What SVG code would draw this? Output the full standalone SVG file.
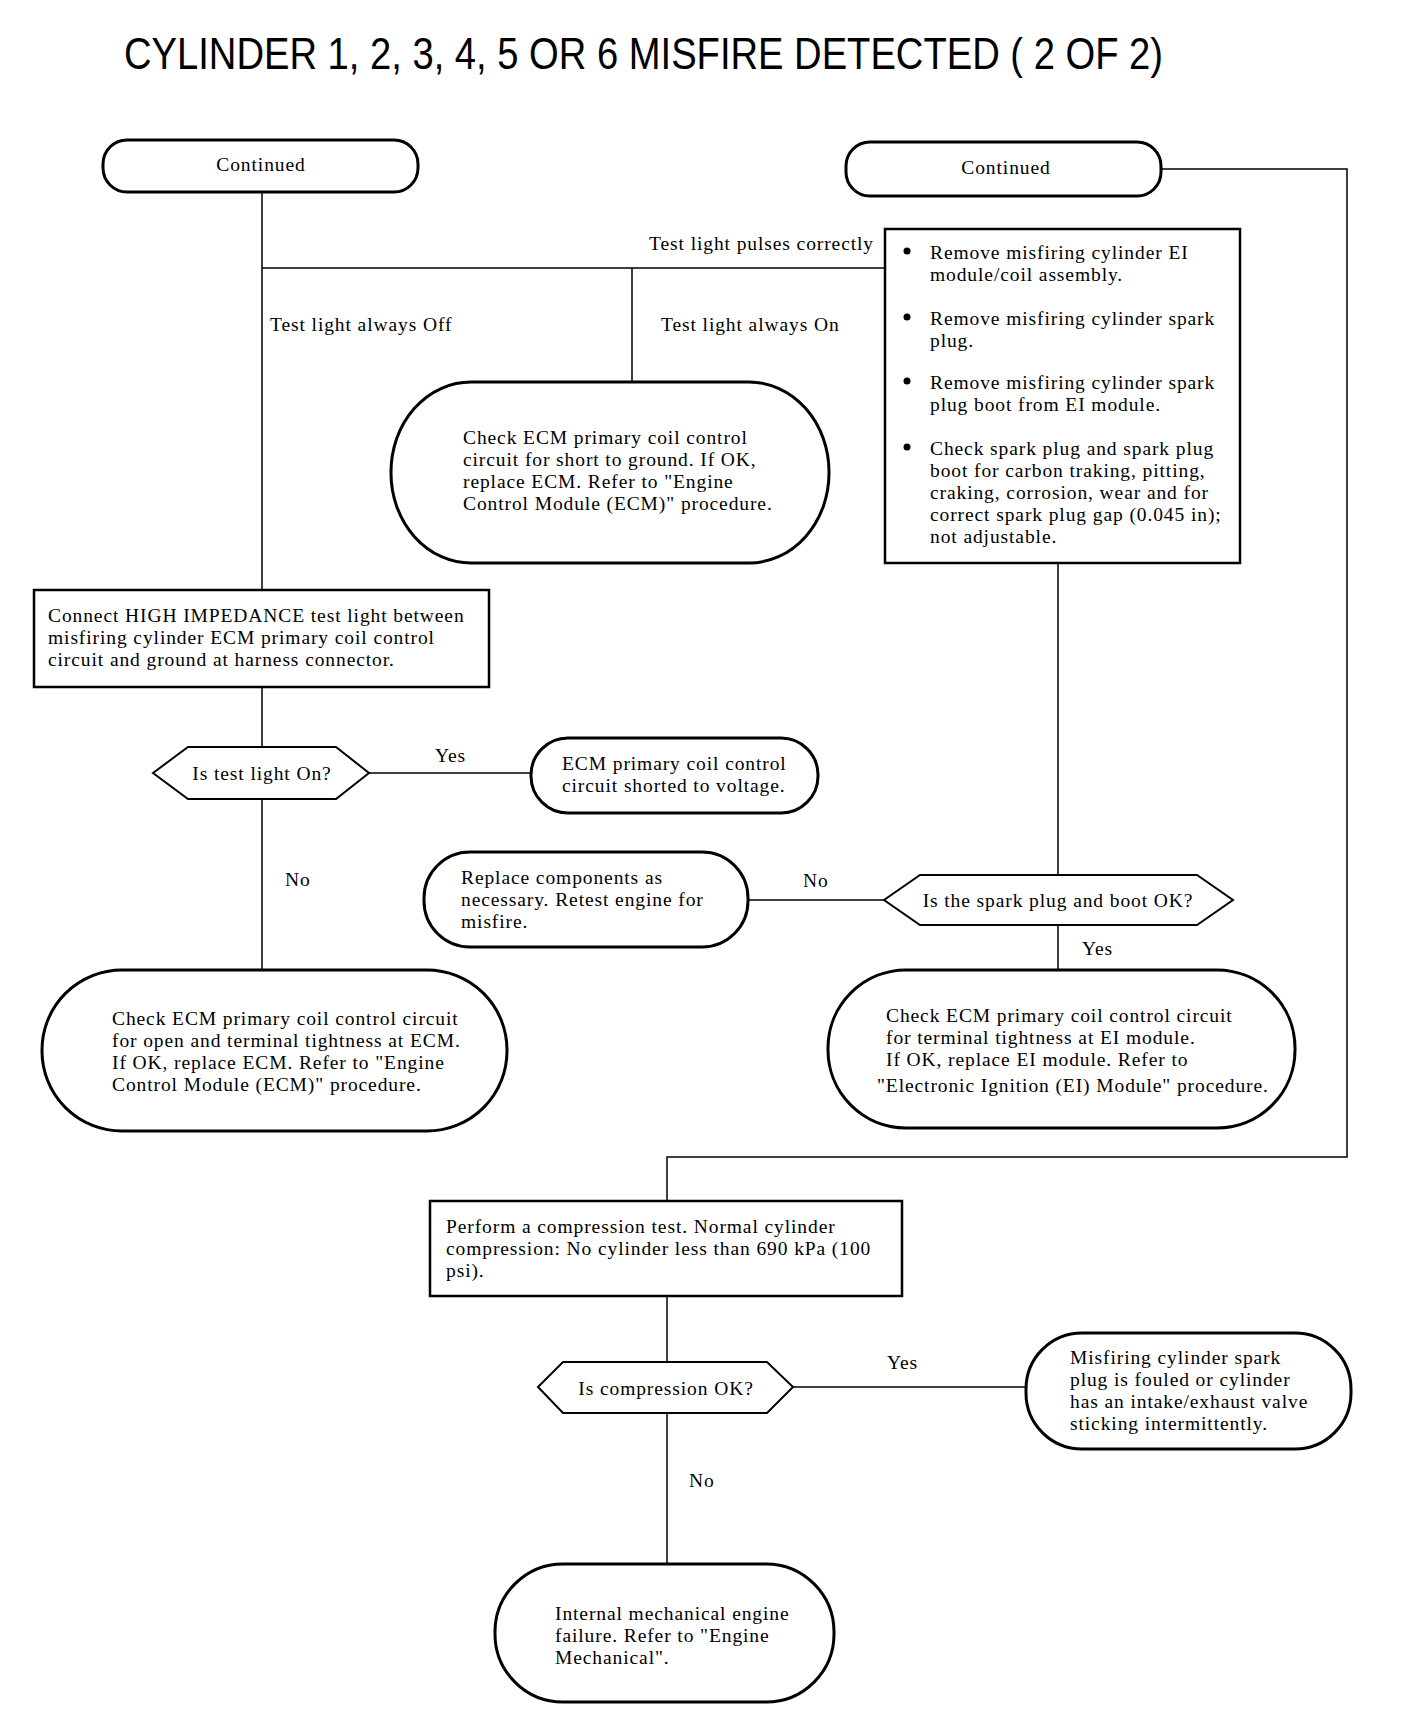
<svg xmlns="http://www.w3.org/2000/svg" width="1408" height="1718" viewBox="0 0 1408 1718">
<style>
.t{font-family:"Liberation Serif","Times New Roman",serif;font-size:19.5px;letter-spacing:0.9px;fill:#000}
.c{text-anchor:middle}
.term{fill:#fff;stroke:#000;stroke-width:3}
.box{fill:#fff;stroke:#000;stroke-width:2.5}
.dia{fill:#fff;stroke:#000;stroke-width:2}
.ln{fill:none;stroke:#000;stroke-width:1.5}
</style>
<rect width="1408" height="1718" fill="#fff"/>
<text x="124" y="69" font-family="'Liberation Sans',Arial,sans-serif" font-size="44" textLength="1039" lengthAdjust="spacingAndGlyphs">CYLINDER 1, 2, 3, 4, 5 OR 6 MISFIRE DETECTED ( 2 OF 2)</text>
<g id="connectors">
<polyline class="ln" points="1161,169 1347,169 1347,1157 667,1157 667,1201"/>
<line class="ln" x1="262" y1="192" x2="262" y2="590"/>
<line class="ln" x1="262" y1="268" x2="885" y2="268"/>
<line class="ln" x1="632" y1="268" x2="632" y2="382"/>
<line class="ln" x1="262" y1="687" x2="262" y2="747"/>
<line class="ln" x1="369" y1="773" x2="531" y2="773"/>
<line class="ln" x1="262" y1="799" x2="262" y2="970"/>
<line class="ln" x1="1058" y1="563" x2="1058" y2="875"/>
<line class="ln" x1="748" y1="900" x2="884" y2="900"/>
<line class="ln" x1="1058" y1="925" x2="1058" y2="970"/>
<line class="ln" x1="667" y1="1296" x2="667" y2="1362"/>
<line class="ln" x1="793" y1="1387" x2="1026" y2="1387"/>
<line class="ln" x1="667" y1="1413" x2="667" y2="1564"/>
<text class="t" x="874" y="250" text-anchor="end">Test light pulses correctly</text>
<text class="t" x="270" y="331">Test light always Off</text>
<text class="t" x="661" y="331">Test light always On</text>
<text class="t" x="435" y="762">Yes</text>
<text class="t" x="285" y="886">No</text>
<text class="t" x="803" y="887">No</text>
<text class="t" x="1082" y="955">Yes</text>
<text class="t" x="887" y="1369">Yes</text>
<text class="t" x="689" y="1487">No</text>
</g>
<g id="continued-left">
<rect class="term" x="103" y="140" width="315" height="52" rx="24" ry="24"/>
<text class="t c" x="261" y="171">Continued</text>
</g>
<g id="continued-right">
<rect class="term" x="846" y="142" width="315" height="54" rx="24" ry="24"/>
<text class="t c" x="1006" y="174">Continued</text>
</g>
<g id="check-short-ground">
<rect class="term" x="391" y="382" width="438" height="181" rx="80" ry="90"/>
<text class="t" x="463" y="444">Check ECM primary coil control</text>
<text class="t" x="463" y="466">circuit for short to ground.  If OK,</text>
<text class="t" x="463" y="488">replace ECM. Refer to "Engine</text>
<text class="t" x="463" y="510">Control Module (ECM)" procedure.</text>
</g>
<g id="remove-steps">
<rect class="box" x="885" y="229" width="355" height="334"/>
<circle cx="907" cy="251" r="3.5"/>
<text class="t" x="930" y="259">Remove misfiring cylinder EI</text>
<text class="t" x="930" y="281">module/coil assembly.</text>
<circle cx="907" cy="317" r="3.5"/>
<text class="t" x="930" y="325">Remove misfiring cylinder spark</text>
<text class="t" x="930" y="347">plug.</text>
<circle cx="907" cy="381" r="3.5"/>
<text class="t" x="930" y="389">Remove misfiring cylinder spark</text>
<text class="t" x="930" y="411">plug boot from EI module.</text>
<circle cx="907" cy="447" r="3.5"/>
<text class="t" x="930" y="455">Check spark plug and spark plug</text>
<text class="t" x="930" y="477">boot for carbon traking, pitting,</text>
<text class="t" x="930" y="499">craking, corrosion, wear and for</text>
<text class="t" x="930" y="521">correct spark plug gap (0.045 in);</text>
<text class="t" x="930" y="543">not adjustable.</text>
</g>
<g id="connect-test-light">
<rect class="box" x="34" y="590" width="455" height="97"/>
<text class="t" x="48" y="622">Connect HIGH IMPEDANCE test light between</text>
<text class="t" x="48" y="644">misfiring cylinder ECM primary coil control</text>
<text class="t" x="48" y="666">circuit and ground at harness connector.</text>
</g>
<g id="is-test-light-on">
<polygon class="dia" points="153,773 188,747 336,747 369,773 336,799 188,799"/>
<text class="t c" x="262" y="780">Is test light On?</text>
</g>
<g id="shorted-voltage">
<rect class="term" x="531" y="738" width="287" height="75" rx="37" ry="37"/>
<text class="t" x="562" y="770">ECM primary coil control</text>
<text class="t" x="562" y="792">circuit shorted to voltage.</text>
</g>
<g id="check-open">
<rect class="term" x="42" y="970" width="465" height="161" rx="80" ry="80"/>
<text class="t" x="112" y="1025">Check ECM primary coil control circuit</text>
<text class="t" x="112" y="1047">for open and terminal tightness at ECM.</text>
<text class="t" x="112" y="1069">If OK, replace ECM. Refer to "Engine</text>
<text class="t" x="112" y="1091">Control Module (ECM)" procedure.</text>
</g>
<g id="replace-components">
<rect class="term" x="424" y="852" width="324" height="95" rx="46" ry="46"/>
<text class="t" x="461" y="884">Replace components as</text>
<text class="t" x="461" y="906">necessary.  Retest engine for</text>
<text class="t" x="461" y="928">misfire.</text>
</g>
<g id="is-spark-plug-ok">
<polygon class="dia" points="884,900 920,875 1197,875 1233,900 1197,925 920,925"/>
<text class="t c" x="1058" y="907">Is the spark plug and boot OK?</text>
</g>
<g id="check-ei-module">
<rect class="term" x="828" y="970" width="467" height="158" rx="78" ry="78"/>
<text class="t" x="886" y="1022">Check ECM primary coil control circuit</text>
<text class="t" x="886" y="1044">for terminal tightness at EI module.</text>
<text class="t" x="886" y="1066">If OK, replace EI module. Refer to</text>
<text class="t" x="877" y="1092">"Electronic Ignition (EI) Module" procedure.</text>
</g>
<g id="compression-test">
<rect class="box" x="430" y="1201" width="472" height="95"/>
<text class="t" x="446" y="1233">Perform a compression test.  Normal cylinder</text>
<text class="t" x="446" y="1255">compression: No cylinder less than 690 kPa (100</text>
<text class="t" x="446" y="1277">psi).</text>
</g>
<g id="is-compression-ok">
<polygon class="dia" points="538,1387 563,1362 767,1362 793,1387 767,1413 563,1413"/>
<text class="t c" x="666" y="1395">Is compression OK?</text>
</g>
<g id="spark-plug-fouled">
<rect class="term" x="1026" y="1333" width="325" height="116" rx="56" ry="56"/>
<text class="t" x="1070" y="1364">Misfiring cylinder spark</text>
<text class="t" x="1070" y="1386">plug is fouled or cylinder</text>
<text class="t" x="1070" y="1408">has an intake/exhaust valve</text>
<text class="t" x="1070" y="1430">sticking intermittently.</text>
</g>
<g id="mechanical-failure">
<rect class="term" x="495" y="1564" width="339" height="138" rx="68" ry="68"/>
<text class="t" x="555" y="1620">Internal mechanical engine</text>
<text class="t" x="555" y="1642">failure.  Refer to "Engine</text>
<text class="t" x="555" y="1664">Mechanical".</text>
</g>
</svg>
